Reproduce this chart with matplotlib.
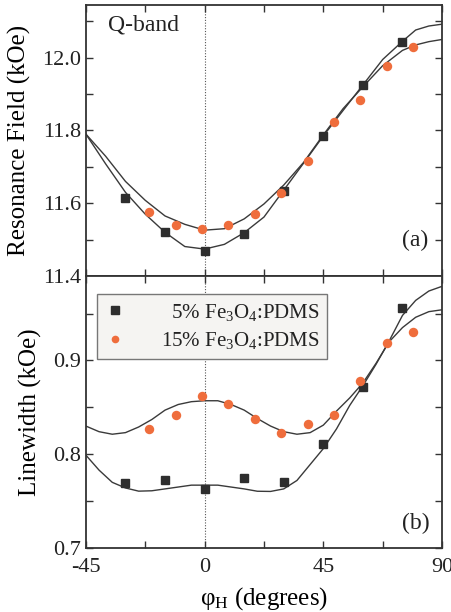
import numpy as np
import matplotlib
matplotlib.use('Agg')
import matplotlib.pyplot as plt
from matplotlib.ticker import MultipleLocator

# --- data: measured points (phi_H in degrees) ---
phi_5 = [-30, -15, 0, 15, 30, 45, 60, 75]
phi_15 = [-21, -11, -1, 9, 19, 29, 39, 49, 59, 69, 79]

hr_5 = [11.615, 11.520, 11.470, 11.516, 11.634, 11.786, 11.925, 12.042]
hr_15 = [11.576, 11.539, 11.530, 11.539, 11.571, 11.629, 11.716, 11.824,
         11.884, 11.977, 12.028]

lw_5 = [0.769, 0.772, 0.763, 0.775, 0.770, 0.811, 0.872, 0.956]
lw_15 = [0.827, 0.842, 0.862, 0.854, 0.838, 0.823, 0.832, 0.842,
         0.878, 0.919, 0.930]

# --- fitted curves ---
fit_phi_a = [-45, -37.5, -30, -22.5, -15, -7.5, 0, 7.5, 15, 22.5, 30, 37.5,
             45, 52.5, 60, 67.5, 75, 80, 85, 90]
fit_hr_5 = [11.790, 11.708, 11.630, 11.570, 11.520, 11.481, 11.474, 11.487,
            11.519, 11.562, 11.636, 11.710, 11.785, 11.855, 11.925, 11.995,
            12.045, 12.076, 12.087, 12.092]
fit_hr_15 = [11.790, 11.729, 11.660, 11.608, 11.565, 11.542, 11.526, 11.530,
             11.557, 11.598, 11.650, 11.712, 11.788, 11.860, 11.920, 11.978,
             12.020, 12.035, 12.044, 12.050]

fit_phi_b = list(range(-45, 91, 5))
fit_lw_5 = [0.799, 0.783, 0.770, 0.764, 0.7606, 0.761, 0.763, 0.765, 0.767,
            0.767, 0.767, 0.765, 0.763, 0.7605, 0.7603, 0.763, 0.772, 0.789,
            0.806, 0.827, 0.852, 0.873, 0.896, 0.921, 0.948, 0.964, 0.974,
            0.979]
fit_lw_15 = [0.830, 0.824, 0.8213, 0.823, 0.829, 0.837, 0.847, 0.853, 0.856,
             0.857, 0.857, 0.853, 0.847, 0.838, 0.830, 0.824, 0.8213, 0.823,
             0.831, 0.846, 0.860, 0.876, 0.897, 0.920, 0.935, 0.946, 0.952,
             0.954]

labels = ['\u20075% Fe$_3$O$_4$:PDMS', '15% Fe$_3$O$_4$:PDMS']

SQ_COLOR = '#2e2e2e'
CI_COLOR = '#ef6d3c'
LINE_COLOR = '#3a3a3a'
FRAME_COLOR = '#333333'

plt.rcParams['font.family'] = ['Liberation Serif', 'DejaVu Serif']
plt.rcParams['mathtext.fontset'] = 'custom'
plt.rcParams['mathtext.rm'] = 'Liberation Serif'
plt.rcParams['mathtext.it'] = 'Liberation Serif:italic'
plt.rcParams['text.color'] = '#222222'
plt.rcParams['axes.unicode_minus'] = False

fig = plt.figure(figsize=(4.52, 6.12), dpi=100)
ax1 = fig.add_axes([0.190, 0.549, 0.788, 0.443])
ax2 = fig.add_axes([0.190, 0.1046, 0.788, 0.4444])

for ax in (ax1, ax2):
    ax.axvline(0, color='#555555', lw=0.8, ls=(0, (1, 1.5)), zorder=1)
    ax.set_xlim(-45, 90)
    ax.xaxis.set_major_locator(MultipleLocator(45))
    ax.xaxis.set_minor_locator(MultipleLocator(22.5))
    ax.tick_params(which='both', direction='in', top=True, right=True,
                   colors=FRAME_COLOR, labelcolor='#222222', labelsize=16)
    ax.tick_params(which='major', length=5, width=1.0)
    ax.tick_params(which='minor', length=5, width=1.0)
    for sp in ax.spines.values():
        sp.set_linewidth(1.3)
        sp.set_color(FRAME_COLOR)

# (a) resonance field
ax1.plot(fit_phi_a, fit_hr_5, color=LINE_COLOR, lw=1.0, zorder=2)
ax1.plot(fit_phi_a, fit_hr_15, color=LINE_COLOR, lw=1.0, zorder=2)
ax1.plot(phi_5, hr_5, 's', color=SQ_COLOR, ms=6, zorder=3)
ax1.plot(phi_15, hr_15, 'o', color=CI_COLOR, ms=6.8, mec='none', zorder=3)
ax1.set_ylim(11.4, 12.145)
ax1.yaxis.set_major_locator(MultipleLocator(0.2))
ax1.yaxis.set_minor_locator(MultipleLocator(0.1))
ax1.yaxis.set_major_formatter(matplotlib.ticker.FormatStrFormatter('%.1f'))
ax1.tick_params(axis='x', labelbottom=False)
ax1.set_ylabel('Resonance Field (kOe)', fontsize=18, labelpad=8)
ax1.text(0.062, 0.925, 'Q-band', transform=ax1.transAxes, fontsize=17,
         va='center', ha='left')
ax1.text(0.925, 0.13, '(a)', transform=ax1.transAxes, fontsize=17,
         va='center', ha='center')

# (b) linewidth
ax2.plot(fit_phi_b, fit_lw_5, color=LINE_COLOR, lw=1.0, zorder=2)
ax2.plot(fit_phi_b, fit_lw_15, color=LINE_COLOR, lw=1.0, zorder=2)
ax2.plot(phi_5, lw_5, 's', color=SQ_COLOR, ms=6, zorder=3, label=labels[0])
ax2.plot(phi_15, lw_15, 'o', color=CI_COLOR, ms=6.8, mec='none', zorder=3,
         label=labels[1])
ax2.set_ylim(0.7, 0.99)
ax2.yaxis.set_major_locator(MultipleLocator(0.1))
ax2.yaxis.set_minor_locator(MultipleLocator(0.05))
ax2.yaxis.set_major_formatter(matplotlib.ticker.FormatStrFormatter('%.1f'))
ax2.xaxis.set_major_formatter(matplotlib.ticker.FormatStrFormatter('%d'))
ax2.tick_params(axis='x', pad=7)
ax2.set_ylabel('Linewidth (kOe)', fontsize=18, labelpad=8)
ax2.set_xlabel('\u03c6$_\\mathrm{H}$ (degrees)', fontsize=18, labelpad=6)
ax2.text(0.925, 0.09, '(b)', transform=ax2.transAxes, fontsize=17,
         va='center', ha='center')

leg = ax2.legend(loc='upper left', bbox_to_anchor=(0.03, 0.935),
                 fontsize=15, frameon=True, fancybox=False, handletextpad=1.7,
                 borderpad=0.38, labelspacing=0.35, handlelength=1.0,
                 borderaxespad=0)
leg.get_frame().set_facecolor('#f5f4f2')
leg.get_frame().set_edgecolor('#777777')
leg.get_frame().set_linewidth(1.0)
leg.get_frame().set_alpha(1)
for h in leg.legend_handles:
    h.set_markersize(5.5)

fig.savefig('out.png', dpi=100)
